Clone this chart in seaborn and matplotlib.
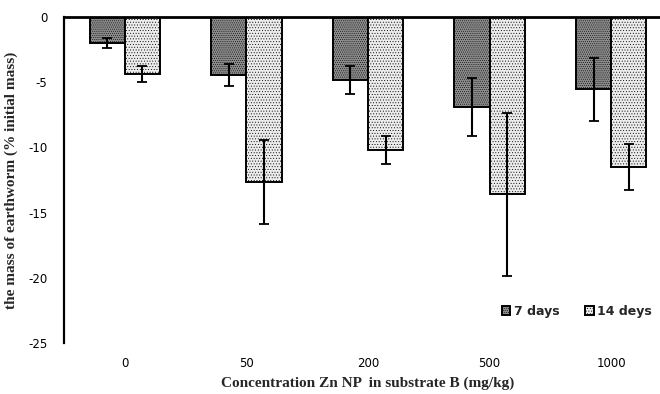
import numpy as np
import pandas as pd
import matplotlib
matplotlib.use("Agg")
import matplotlib.pyplot as plt
import seaborn as sns

categories = ["0", "50", "200", "500", "1000"]
series_names = ["7 days", "14 deys"]
mean_7 = [-2.0, -4.45, -4.85, -6.9, -5.55]
err_7 = [0.4, 0.82, 1.07, 2.2, 2.4]
mean_14 = [-4.35, -12.65, -10.2, -13.6, -11.5]
err_14 = [0.6, 3.25, 1.06, 6.25, 1.76]
yticks = [0, -5, -10, -15, -20, -25]

sns.set_style("white")
plt.rcParams["font.family"] = ["DejaVu Sans"]
plt.rcParams["hatch.linewidth"] = 0.35

df = pd.DataFrame({
    "conc": categories * 2,
    "value": mean_7 + mean_14,
    "series": [series_names[0]] * 5 + [series_names[1]] * 5,
})

fig = plt.figure(figsize=(6.6, 3.94), dpi=100)
ax = fig.add_axes([64 / 660, 51 / 394, 608 / 660, 326 / 394])

sns.barplot(data=df, x="conc", y="value", hue="series", order=categories,
            hue_order=series_names, errorbar=None, width=0.58, ax=ax,
            palette=["#8c8c8c", "#ececec"], edgecolor="black", linewidth=1.4,
            legend=True)

hatches = ["........", "......"]
errs = [err_7, err_14]
bar_containers = list(ax.containers)
for ci, cont in enumerate(bar_containers):
    for bar, e in zip(cont.patches, errs[ci]):
        bar.set_hatch(hatches[ci])
        x = bar.get_x() + bar.get_width() / 2
        y = bar.get_y() + bar.get_height()
        ax.errorbar(x, y, yerr=e, color="black", lw=1.5, capsize=3.5,
                    capthick=1.3)

ax.set_ylim(-25, 0)
ax.set_xlim(-0.5, 4.5)
ax.set_yticks(yticks)
ax.set_yticklabels([str(t) for t in yticks])
ax.tick_params(axis="both", length=0, labelsize=8.5, colors="black")
ax.tick_params(axis="y", pad=12)
ax.tick_params(axis="x", pad=10)

for s in ["bottom", "right"]:
    ax.spines[s].set_visible(False)
ax.spines["left"].set_linewidth(1.6)
ax.spines["left"].set_color("black")
ax.spines["top"].set_linewidth(2.0)
ax.spines["top"].set_color("black")

ax.set_xlabel("Concentration Zn NP  in substrate B (mg/kg)",
              family="Liberation Serif", fontweight="bold", fontsize=11, labelpad=5)
ax.set_ylabel("the mass of earthworm (% initial mass)",
              family="Liberation Serif", fontweight="bold", fontsize=11, labelpad=7)

handles, labels = ax.get_legend_handles_labels()
ax.get_legend().remove()
for h, hh in zip(handles, hatches):
    h.set_hatch(hh)
fig.legend(handles, labels, loc="center right", bbox_to_anchor=(1.005, 0.21),
           ncol=2, frameon=False, handlelength=0.7, handleheight=0.7,
           handletextpad=0.3, columnspacing=2.0,
           prop={"family": "DejaVu Sans", "size": 9, "weight": "semibold"})

fig.savefig("out.png", dpi=100)
